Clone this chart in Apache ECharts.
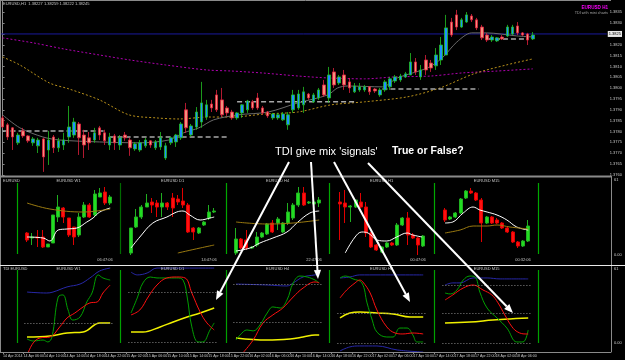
<!DOCTYPE html>
<html><head><meta charset="utf-8">
<script src="https://cdn.jsdelivr.net/npm/echarts@6/dist/echarts.min.js"></script>
<style>html,body{margin:0;padding:0;background:#000;}#c{width:625px;height:360px;}</style>
</head><body><div id="c"></div>
<script>
// ---------- main EURUSD H1 chart ----------
const timeLabels = ["14 Apr 2014","14 Apr 06:00","14 Apr 10:00","14 Apr 14:00","14 Apr 18:00","14 Apr 22:00","15 Apr 02:00","15 Apr 06:00","15 Apr 10:00","15 Apr 14:00","15 Apr 18:00","15 Apr 22:00","16 Apr 02:00","16 Apr 06:00","16 Apr 10:00","16 Apr 14:00","16 Apr 18:00","16 Apr 22:00","17 Apr 02:00","17 Apr 06:00","17 Apr 10:00","17 Apr 14:00","17 Apr 18:00","17 Apr 22:00","18 Apr 02:00","18 Apr 06:00"];
const priceTicks = [1.3760,1.3765,1.3770,1.3775,1.3780,1.3785,1.3790,1.3795,1.3800,1.3805,1.3810,1.3815,1.3820,1.3825,1.3830,1.3835];
// [open, close, low, high]
const mainCandles = [
[1.37863,1.37821,1.37817,1.37872],[1.37831,1.37775,1.37761,1.37840],[1.37817,1.37775,1.37715,1.37821],[1.37748,1.37784,1.37738,1.37794],
[1.37803,1.37780,1.37771,1.37817],[1.37780,1.37757,1.37748,1.37784],[1.37748,1.37766,1.37734,1.37775],[1.37734,1.37761,1.37701,1.37771],
[1.37766,1.37683,1.37614,1.37771],[1.37715,1.37761,1.37646,1.37803],[1.37775,1.37725,1.37701,1.37784],[1.37725,1.37757,1.37706,1.37771],
[1.37738,1.37761,1.37715,1.37794],[1.37775,1.37821,1.37748,1.37918],[1.37784,1.37844,1.37771,1.37863],[1.37835,1.37771,1.37692,1.37844],
[1.37784,1.37738,1.37678,1.37808],[1.37771,1.37748,1.37715,1.37798],[1.37761,1.37794,1.37748,1.37817],[1.37817,1.37784,1.37761,1.37826],
[1.37794,1.37757,1.37738,1.37808],[1.37738,1.37775,1.37715,1.37794],[1.37780,1.37748,1.37715,1.37789],[1.37738,1.37771,1.37715,1.37784],
[1.37784,1.37771,1.37757,1.37798],[1.37761,1.37725,1.37688,1.37771],[1.37720,1.37743,1.37711,1.37752],[1.37715,1.37748,1.37706,1.37761],
[1.37734,1.37761,1.37725,1.37771],[1.37757,1.37738,1.37725,1.37761],[1.37725,1.37752,1.37715,1.37761],[1.37729,1.37771,1.37715,1.37798],
[1.37678,1.37734,1.37669,1.37748],[1.37748,1.37771,1.37738,1.37775],[1.37752,1.37784,1.37729,1.37789],[1.37771,1.37835,1.37761,1.37844],
[1.37900,1.37817,1.37794,1.37932],[1.37784,1.37826,1.37775,1.37835],[1.37821,1.37890,1.37808,1.37913],[1.37844,1.37932,1.37817,1.38029],
[1.37867,1.37923,1.37854,1.37946],[1.37927,1.37909,1.37890,1.37946],[1.37969,1.37900,1.37890,1.37992],[1.37946,1.37877,1.37867,1.38001],
[1.37909,1.37886,1.37872,1.37918],[1.37890,1.37863,1.37854,1.37900],[1.37863,1.37886,1.37854,1.37890],[1.37886,1.37923,1.37863,1.37927],
[1.37900,1.37941,1.37886,1.37946],[1.37937,1.37909,1.37900,1.37946],[1.37955,1.37909,1.37900,1.37978],[1.37909,1.37886,1.37877,1.37918],
[1.37890,1.37872,1.37863,1.37895],[1.37863,1.37881,1.37854,1.37886],[1.37863,1.37877,1.37854,1.37886],[1.37854,1.37881,1.37849,1.37890],
[1.37831,1.37877,1.37808,1.37890],[1.37900,1.37969,1.37886,1.37992],[1.37909,1.37973,1.37900,1.37992],[1.37923,1.37983,1.37886,1.38006],
[1.37973,1.37955,1.37946,1.37978],[1.37937,1.37969,1.37932,1.37978],[1.37955,1.37992,1.37946,1.38001],[1.38015,1.37969,1.37960,1.38038],
[1.37955,1.38061,1.37932,1.38098],[1.38075,1.38015,1.38001,1.38093],[1.38024,1.38052,1.38015,1.38061],[1.38061,1.38015,1.37992,1.38084],
[1.38029,1.38001,1.37978,1.38047],[1.37983,1.38010,1.37978,1.38024],[1.37992,1.38006,1.37983,1.38024],[1.37992,1.38006,1.37983,1.38015],
[1.38006,1.37983,1.37969,1.38010],[1.37996,1.37987,1.37978,1.38001],[1.37969,1.37992,1.37960,1.38001],[1.37992,1.38029,1.37983,1.38038],
[1.38006,1.38043,1.37992,1.38052],[1.38033,1.38052,1.38024,1.38061],[1.38038,1.38056,1.38029,1.38066],[1.38052,1.38066,1.38047,1.38075],
[1.38061,1.38121,1.38061,1.38162],[1.38121,1.38075,1.38061,1.38139],[1.38052,1.38084,1.38038,1.38107],[1.38130,1.38084,1.38061,1.38153],
[1.38116,1.38093,1.38075,1.38130],[1.38103,1.38153,1.38084,1.38185],[1.38130,1.38199,1.38107,1.38236],[1.38153,1.38278,1.38153,1.38338],
[1.38305,1.38245,1.38236,1.38324],[1.38338,1.38282,1.38268,1.38361],[1.38282,1.38315,1.38278,1.38324],[1.38305,1.38338,1.38301,1.38351],
[1.38333,1.38315,1.38305,1.38342],[1.38315,1.38278,1.38268,1.38324],[1.38282,1.38232,1.38222,1.38292],[1.38245,1.38222,1.38213,1.38255],
[1.38222,1.38236,1.38213,1.38245],[1.38218,1.38232,1.38213,1.38236],[1.38236,1.38227,1.38222,1.38245],[1.38241,1.38282,1.38236,1.38292],
[1.38250,1.38282,1.38245,1.38292],[1.38287,1.38255,1.38245,1.38305],[1.38255,1.38245,1.38241,1.38259],[1.38250,1.38222,1.38199,1.38255],
[1.38227,1.38245,1.38222,1.38259]];
const totalBars = 119;
const currentPrice = 1.38250;
// moving averages [bar index, price]
const maSlow = [[0,1.38232],[6,1.38209],[12,1.38181],[19,1.38153],[25,1.38130],[32,1.38107],[40,1.38084],[45,1.38079],[51,1.38070],[58,1.38056],[64,1.38047],[71,1.38043],[77,1.38052],[84,1.38056],[90,1.38070],[97,1.38079],[104,1.38089]];
const maMid = [[0,1.38144],[3.4,1.38107],[9.2,1.38024],[13.1,1.37996],[19,1.37946],[24.8,1.37877],[30.1,1.37863],[34.6,1.37858],[40.4,1.37867],[44.9,1.37867],[51.5,1.37881],[57.9,1.37890],[64.4,1.37923],[71,1.37937],[79.4,1.37960],[85.8,1.38001],[92.4,1.38066],[98.8,1.38107],[104,1.38135]];
const maFast = [[0,1.37877],[3.4,1.37817],[7.9,1.37775],[11.2,1.37761],[19,1.37752],[26.8,1.37748],[32.6,1.37761],[35.5,1.37794],[38.5,1.37817],[41.4,1.37854],[46.2,1.37877],[52.1,1.37890],[57.9,1.37932],[63.8,1.37969],[65.7,1.38001],[67.7,1.38010],[74.5,1.38006],[77.4,1.38047],[83.3,1.38093],[86.2,1.38139],[89.1,1.38213],[92,1.38255],[94.9,1.38255],[100.8,1.38241],[104,1.38236]];
// horizontal levels [from bar, to bar, price]
const levels = [[0,20,1.37803],[21,44,1.37775],[46,69,1.37937],[74.5,93.4,1.37996],[95,103,1.38227]];

// ---------- mini charts (relative price level) ----------
const miniTitles = ["EURUSD W1","EURUSD D1","EURUSD H4","EURUSD H1","EURUSD M15"];
const miniTimes = ["06:47:06","14:47:06","22:47:06","00:47:06","00:32:06"];
const w1Candles = [[27,20,18,28],[22,23,15,27],[23,22,13,30],[23,13,12,30],[13,16,13,16],[17,45,17,45],[43,53,38,65],[52,43,37,53],[42,25,23,42],[33,23,15,33],[25,43,23,47],[43,55,42,58],[55,43,42,57],[45,66,43,70],[63,67,63,72],[68,57,55,73],[57,63,55,65]];
const d1Candles = [[7,32,5,32],[33,43,32,51],[43,53,41,55],[53,57,53,66],[58,55,47,62],[57,53,43,60],[53,57,43,67],[57,53,50,58],[62,52,43,67],[61,58,55,65],[59,55,52,72],[55,28,27,57],[32,28,20,33],[27,32,26,33],[35,38,34,39],[42,48,40,55],[48,49,47,52]];
const h4Candles = [[7,21,5,32],[21,12,11,22],[20,12,10,30],[12,13,11,14],[15,23,13,28],[23,27,22,28],[26,36,25,37],[37,28,27,40],[37,41,30,43],[28,37,27,38],[37,48,35,57],[42,55,40,57],[55,67,53,73],[67,55,54,73],[57,58,56,59],[56,58,55,61],[57,60,53,63]];
const h1Candles = [[58,56,20,68],[57,53,37,70],[53,54,38,55],[53,60,52,60],[58,53,52,67],[53,27,23,58],[27,13,12,28],[15,10,9,16],[8,13,7,14],[13,17,12,18],[17,15,14,18],[15,35,14,37],[35,42,34,43],[42,25,15,48],[25,22,21,27],[22,15,5,23],[14,24,13,25]];
const m15Candles = [[50,40,38,52],[41,43,40,44],[43,47,42,48],[47,61,46,62],[62,69,61,70],[69,67,66,72],[67,60,59,68],[60,37,18,62],[37,43,36,44],[43,37,36,44],[40,37,36,42],[37,32,31,38],[32,28,27,34],[28,18,17,29],[18,14,12,19],[14,19,13,20],[19,34,18,40]];
const w1White = [[0,23],[3.1,22],[4.4,19],[6,30],[7.7,31],[9.6,32],[11.5,38],[12.7,42],[14,48],[16,52]];
const w1Olive = [[0,57],[4.4,51],[10.8,48],[16,51]];
const d1White = [[0,12],[1.7,23],[4.2,37],[6.9,43],[8.8,48],[10,49],[11.3,45],[13.3,40],[15.2,42],[16,43]];
const d1Olive = [[9,7],[13.3,12],[16,15]];
const h4White = [[0,9],[2.7,12],[4.6,17],[7.1,22],[9.8,28],[11.7,37],[14.2,47],[16,49]];
const h4Olive = [[0,38],[6,36],[11,37],[16,40]];
const h1White = [[1,7],[2.9,23],[4.2,28],[5.4,27],[7.1,20],[9,19],[10.9,23],[12.9,27],[14,25],[15.8,23]];
const h1Olive = [];
const m15White = [[0,37],[1.5,38],[3.5,47],[5.4,53],[6.7,50],[8.1,48],[10,45],[11.9,40],[13.8,33],[16,30]];
const m15Olive = [[0,27],[2.9,30],[5.4,34],[8.1,34],[10,35],[12.5,33],[16,31]];
const miniScaleLabels = ["61","0.00"];

// ---------- TDI panels (RSI scale) ----------
const w1Blue = [[0,63.1],[3.8,62.5],[5,63.1],[7.7,66.3],[10.2,68.1],[12.1,71.9],[14,76.3],[16,78.1]];
const w1Green = [[0,33.8],[1.2,32.5],[3.1,33.1],[4,31.9],[4.8,35],[6,60],[6.9,61.3],[7.9,51.9],[8.8,45.6],[10.2,47.5],[11.5,56.9],[12.5,62.5],[13.7,73.8],[14.6,71.9],[16,70.6]];
const w1Red = [[0.2,25],[1.2,31.3],[2.5,34.4],[4.4,35],[6.3,41.3],[7.7,46.9],[9.2,50],[10.8,53.8],[12.1,56.3],[13.5,56.9],[14.6,62.5],[16,67.5]];
const w1Yellow = [[0,35],[4.4,35.6],[7.7,37.5],[10.8,38.1],[14,43.8],[16,43.8]];
const w1Levels = [43.8];
const d1Blue = [[0,75.6],[1.2,73.8],[3.1,75],[5,78.1],[16,78.1]];
const d1Green = [[0,50],[1.2,59.4],[2.3,68.8],[3.7,72.5],[5,71.9],[6.9,71.9],[8.8,71.9],[10,70.6],[10.8,60],[11.7,41.3],[12.9,31.9],[13.8,31.9],[15.2,39.4],[16,43.8]];
const d1Red = [[0,48.8],[1.7,51.9],[3.3,60],[5,67.5],[6.9,71.9],[8.8,72.5],[10.4,71.9],[11.7,62.5],[13.3,50.6],[14.6,43.8],[16,39.4]];
const d1Yellow = [[0,38.1],[2.3,38.1],[5.6,41.3],[8.1,44.4],[10.8,47.5],[13.3,50],[16,53.1]];
const d1Levels = [63.1,31.9];
const h4Blue = [[0,68.1],[6,67.5],[9.8,66.9],[11,68.8],[12.9,72.5],[15.2,73.8],[16,74.4]];
const h4Green = [[0,33.1],[0.8,36.3],[2.1,39.4],[3.3,38.8],[4.6,42.5],[6,50],[7.1,53.8],[8.5,53.1],[9.8,58.1],[11,68.8],[12.3,73.1],[13.7,72.5],[15.2,70.6],[16,68.8]];
const h4Red = [[1.3,25],[3.3,33.1],[5.2,43.8],[7.1,48.8],[9,53.1],[11,60],[12.9,65.6],[15.2,69.4],[16,68.8]];
const h4Yellow = [[0,34.4],[6,33.1],[10.4,33.8],[12.9,35],[15.2,36.3],[16,36.3]];
const h4Levels = [68.1,44.4];
const h1Blue = [[0,71.9],[1.9,72.5],[3.8,73.8],[16,73.8]];
const h1BlueLow = [[0,26.3],[1.9,28.8],[3.8,29.4],[7.1,29.4],[11,26.9],[16,25.6]];
const h1Green = [[0,71.9],[1,73.1],[2.5,71.3],[4.2,68.8],[5.2,56.3],[6.2,45.6],[7.1,38.1],[9,35],[10.2,35],[11.5,40.6],[12.9,40.6],[14,36.3],[14.8,31.9],[16,31.9]];
const h1Red = [[0,59.4],[1.3,64.4],[2.9,68.8],[3.8,70.6],[4.4,69.4],[5.8,62.5],[7.1,51.9],[9,41.3],[10.6,37.5],[12.1,36.9],[14,37.5],[16,36.9]];
const h1Yellow = [[0,46.9],[1.9,50],[3.8,50.6],[7.1,50],[10.2,49.4],[13.5,47.5],[16,47.5]];
const h1Levels = [50,31.3];
const m15Blue = [[0,67.5],[1.5,68.8],[2.9,68.8],[5.4,71.9],[8.1,71.9],[10.6,71.3],[16,71.3]];
const m15Green = [[0,62.5],[1,61.9],[2.3,64.4],[3.5,70.6],[4.8,73.1],[5.8,72.5],[6.7,63.1],[8.1,53.1],[10,46.9],[11.9,40.6],[13.8,31.9],[15,31.9],[16,39.4]];
const m15Red = [[0,58.1],[1.5,61.3],[3.5,65.6],[5.4,67.5],[7.3,64.4],[9,61.3],[10.2,56.3],[11.5,48.8],[12.9,41.3],[14,38.1],[15.4,36.9],[16,36.9]];
const m15Yellow = [[0,43.8],[4.8,44.4],[9.2,45.6],[12.5,46.3],[16,46.9]];
const m15Levels = [67.5,50,31.3];
const tdiScaleLabels = ["61","0.00"];

// ---------- build ----------
const FONT = 'Arial, "Liberation Sans", sans-serif';
const TXT = '#c8c8c8';
const panelLeft = [24.4,128.4,233.4,337.4,442.4];
const panelW = 88.4;
const miniSets = [
  {c:w1Candles,w:w1White,o:w1Olive},{c:d1Candles,w:d1White,o:d1Olive},{c:h4Candles,w:h4White,o:h4Olive},
  {c:h1Candles,w:h1White,o:h1Olive},{c:m15Candles,w:m15White,o:m15Olive}];
const tdiSets = [
  {b:[w1Blue],g:w1Green,r:w1Red,y:w1Yellow,l:w1Levels},
  {b:[d1Blue],g:d1Green,r:d1Red,y:d1Yellow,l:d1Levels},
  {b:[h4Blue],g:h4Green,r:h4Red,y:h4Yellow,l:h4Levels},
  {b:[h1Blue,h1BlueLow],g:h1Green,r:h1Red,y:h1Yellow,l:h1Levels},
  {b:[m15Blue],g:m15Green,r:m15Red,y:m15Yellow,l:m15Levels}];

const grid = [], xAxis = [], yAxis = [], series = [];
grid.push({left:0, top:1, width:611, height:175});
const cats = [];
for (let i=0;i<totalBars;i++) cats.push(i%4===0 && i/4<timeLabels.length ? timeLabels[i/4] : '');
xAxis.push({type:'category', gridIndex:0, data:cats, show:false, boundaryGap:true});
xAxis.push({type:'value', gridIndex:0, min:-0.5, max:totalBars-0.5, show:false});
yAxis.push({type:'value', gridIndex:0, position:'right', min:1.37595, max:1.38402,
  splitLine:{show:false},
  axisLine:{show:true, lineStyle:{color:'#8a8a8a', width:1}},
  axisTick:{show:true, length:2, customValues:priceTicks, lineStyle:{color:'#8a8a8a'}},
  axisLabel:{customValues:priceTicks, color:TXT, fontSize:4, fontFamily:FONT, margin:3, formatter:v=>v.toFixed(4)}});
series.push({type:'candlestick', xAxisIndex:0, yAxisIndex:0, data:mainCandles, barWidth:3, z:3,
  itemStyle:{color:'#1E90FF', color0:'#F4907C', borderColor:'#22C022', borderColor0:'#E0203C', borderWidth:0.8}});
series.push({type:'line', xAxisIndex:1, yAxisIndex:0, data:[[-0.5,currentPrice],[totalBars-0.5,currentPrice]], showSymbol:false, silent:true, z:1,
  lineStyle:{color:'#1a1a9c', width:1},
  endLabel:{show:true, formatter:()=>currentPrice.toFixed(4), color:'#000', backgroundColor:'#e8e8e8', fontSize:4, fontFamily:FONT, padding:[1,1], distance:1}});
const mainLine = (data,color,type,width,z)=>({type:'line', xAxisIndex:1, yAxisIndex:0, data, showSymbol:false, smooth:0.3, z,
  lineStyle:{color, width, type}, silent:true});
series.push(mainLine(maSlow,'#b000b0',[2,2],1,2));
series.push(mainLine(maMid,'#b8901a',[2,2],1,2));
series.push(mainLine(maFast,'#6a6a6a','solid',1,2));
levels.forEach(l=>series.push({type:'line', xAxisIndex:1, yAxisIndex:0, data:[[l[0],l[2]],[l[1],l[2]]], showSymbol:false, silent:true, z:2,
  lineStyle:{color:'#a8a8a8', width:1.5, type:[5,3]}}));

for (let k=0;k<5;k++) grid.push({left:panelLeft[k], top:180, width:panelW, height:80});
for (let k=0;k<5;k++) grid.push({left:panelLeft[k], top:265, width:panelW, height:88});
grid.push({left:0, top:265, width:611, height:87});

for (let k=0;k<5;k++) xAxis.push({type:'category', gridIndex:1+k, data:miniSets[k].c.map((_,i)=>i), show:false});
for (let k=0;k<5;k++) xAxis.push({type:'value', gridIndex:1+k, min:-0.5, max:16.5, show:false});
for (let k=0;k<5;k++) xAxis.push({type:'value', gridIndex:6+k, min:-0.5, max:16.5, show:false});
xAxis.push({type:'category', gridIndex:11, data:cats, boundaryGap:true,
  axisLine:{show:true, lineStyle:{color:'#8a8a8a'}},
  axisTick:{show:true, length:2, interval:(i)=>i%4===0 && i/4<timeLabels.length, alignWithLabel:true, lineStyle:{color:'#8a8a8a'}},
  axisLabel:{interval:0, color:TXT, fontSize:3.6, fontFamily:FONT, align:'left', margin:2}});
for (let k=0;k<5;k++) yAxis.push({type:'value', gridIndex:1+k, min:0, max:80, show:false});
for (let k=0;k<5;k++) yAxis.push({type:'value', gridIndex:6+k, min:25, max:80, show:false});
yAxis.push({type:'value', gridIndex:11, show:false, min:0, max:1});

for (let k=0;k<5;k++){
  const s = miniSets[k];
  series.push({type:'candlestick', xAxisIndex:2+k, yAxisIndex:1+k, data:s.c, barWidth:3.4, silent:true,
    itemStyle:{color:'#22dd22', color0:'#ff1010', borderColor:'#20b020', borderColor0:'#e00000', borderWidth:1}});
  series.push({type:'line', xAxisIndex:7+k, yAxisIndex:1+k, data:s.w, showSymbol:false, smooth:0.4, silent:true, z:3,
    lineStyle:{color:'#ffffff', width:1}});
  if (s.o.length) series.push({type:'line', xAxisIndex:7+k, yAxisIndex:1+k, data:s.o, showSymbol:false, smooth:0.4, silent:true, z:3,
    lineStyle:{color:'#9a7a10', width:1}});
}
for (let k=0;k<5;k++){
  const t = tdiSets[k];
  const ln = (data,color,width,extra)=>Object.assign({type:'line', xAxisIndex:12+k, yAxisIndex:6+k, data, showSymbol:false, smooth:0.4, silent:true,
    lineStyle:{color, width}}, extra||{});
  t.b.forEach(b=>series.push(ln(b,'#2828a8',1)));
  series.push(ln(t.y,'#f0f000',1.5,{markLine:{silent:true, symbol:'none', animation:false, label:{show:false},
    lineStyle:{color:'#8a8a8a', type:[1,2], width:1}, data:t.l.map(v=>({yAxis:v}))}}));
  series.push(ln(t.g,'#00a000',1));
  series.push(ln(t.r,'#ff1010',1));
}
series.push({type:'line', xAxisIndex:17, yAxisIndex:11, data:[]});

// ---------- graphics ----------
const G = [];
const hline = (y,x1,x2,color,w)=>G.push({type:'line', shape:{x1, y1:y, x2, y2:y}, style:{stroke:color, lineWidth:w}, silent:true, z:50});
const vline = (x,y1,y2,color,w)=>G.push({type:'line', shape:{x1:x, y1, x2:x, y2}, style:{stroke:color, lineWidth:w}, silent:true, z:50});
const text = (x,y,t,opt)=>G.push({type:'text', x, y, silent:true, z:60, style:Object.assign({text:t, fill:TXT, fontSize:4, fontFamily:FONT}, opt||{})});
hline(0.5,0,611,'#8a8a8a',1);
vline(0.5,0,352,'#8a8a8a',1);
vline(611.5,176,352,'#8a8a8a',1);
hline(176.5,0,611,'#8a8a8a',2);
hline(265.5,0,625,'#e8e8e8',1);
hline(352.5,0,611,'#8a8a8a',1);
text(614,178,miniScaleLabels[0]);
text(614,253,miniScaleLabels[1]);
text(614,267,tdiScaleLabels[0]);
text(614,341,tdiScaleLabels[1]);
const dividers = [17,120,226,329,434,538];
dividers.forEach((x,i)=>{ vline(x+0.5,183,254,i===1?'#006a00':'#00a800',1.2); vline(x+0.5,270,343,'#00a000',1.2); });
text(3,2,'EURUSD,H1  1.38227 1.38259 1.38222 1.38245');
text(608,5,'EURUSD H1',{fill:'#ff00ff', fontWeight:'bold', fontSize:4.6, align:'right'});
text(608,11,'TDI with mini charts',{fill:'#a0a0a0', fontSize:3.8, align:'right'});
text(3,179,'EURUSD');
text(3,267,'TDI EURUSD');
for (let k=0;k<5;k++){
  const cx = panelLeft[k] + panelW/2;
  text(cx,179,miniTitles[k],{align:'center'});
  text(cx,267,miniTitles[k],{align:'center'});
  text(panelLeft[k]+panelW,258,miniTimes[k],{align:'right'});
}
text(275,146,"TDI give mix 'signals'",{fill:'#ffffff', fontSize:11, fontFamily:FONT});
text(392,146,'True or False?',{fill:'#ffffff', fontSize:10.5, fontWeight:'bold', fontFamily:FONT});
function arrow(x1,y1,x2,y2){
  const a = Math.atan2(y2-y1,x2-x1), L=9, W=3.6;
  const bx = x2-L*Math.cos(a), by = y2-L*Math.sin(a);
  const px = -Math.sin(a)*W, py = Math.cos(a)*W;
  G.push({type:'line', shape:{x1,y1,x2:bx,y2:by}, style:{stroke:'#ffffff', lineWidth:2}, silent:true, z:70});
  G.push({type:'polygon', shape:{points:[[x2,y2],[bx+px,by+py],[bx-px,by-py]]}, style:{fill:'#ffffff'}, silent:true, z:70});
}
arrow(289,162,216,300);
arrow(311,162,318,279);
arrow(334,162,410,302);
arrow(368,163,513,313);

const chart = echarts.init(document.getElementById('c'), null, {renderer:'canvas'});
chart.setOption({
  backgroundColor:'#000000', animation:false,
  textStyle:{fontFamily:FONT},
  grid, xAxis, yAxis, series, graphic:G
});
</script></body></html>
